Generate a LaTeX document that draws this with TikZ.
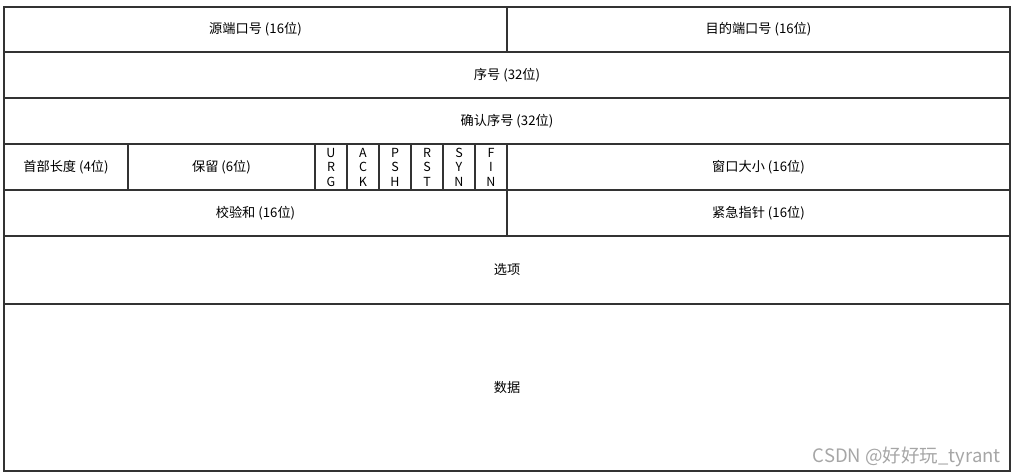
\documentclass[tikz,border=0pt]{standalone}
\usepackage{fontspec}
\setmainfont{Noto Sans CJK SC}
\begin{document}
\begin{tikzpicture}[x=1pt,y=-1pt]
  \tikzset{field/.style={draw=black!80,line width=1.6pt,inner sep=0pt,outer sep=0pt,
      anchor=north west,font=\fontsize{13.2}{15}\selectfont},
    flag/.style={field,align=center,minimum width=32,minimum height=46,
      font=\fontsize{12.5}{14.5}\selectfont}}
  \useasboundingbox (0,0) rectangle (1018,476);
  % row 1
  \node [field,minimum width=503,minimum height=45] (srcport) at (4,7) {源端口号 (16位)};
  \node [field,minimum width=503,minimum height=45] (dstport) at (507,7) {目的端口号 (16位)};
  % rows 2 and 3
  \node [field,minimum width=1006,minimum height=46] (seq) at (4,52) {序号 (32位)};
  \node [field,minimum width=1006,minimum height=46] (ack) at (4,98) {确认序号 (32位)};
  % row 4
  \node [field,minimum width=124,minimum height=46] (hlen) at (4,144) {首部长度 (4位)};
  \node [field,minimum width=187,minimum height=46] (rsvd) at (128,144) {保留 (6位)};
  \node [flag] (urg) at (315,144) {U\\R\\G};
  \node [flag] (ackf) at (347,144) {A\\C\\K};
  \node [flag] (psh) at (379,144) {P\\S\\H};
  \node [flag] (rst) at (411,144) {R\\S\\T};
  \node [flag] (syn) at (443,144) {S\\Y\\N};
  \node [flag] (fin) at (475,144) {F\\I\\N};
  \node [field,minimum width=503,minimum height=46] (win) at (507,144) {窗口大小 (16位)};
  % row 5
  \node [field,minimum width=503,minimum height=46] (csum) at (4,190) {校验和 (16位)};
  \node [field,minimum width=503,minimum height=46] (urgp) at (507,190) {紧急指针 (16位)};
  % options and data
  \node [field,minimum width=1006,minimum height=68] (opt) at (4,236) {选项};
  \node [field,minimum width=1006,minimum height=167] (data) at (4,304) {数据};
  \node [anchor=east,inner sep=0pt,text=black!35,font=\fontsize{18.5}{20}\selectfont]
    (mark) at (1001,457) {CSDN @好好玩\_tyrant};
\end{tikzpicture}
\end{document}
